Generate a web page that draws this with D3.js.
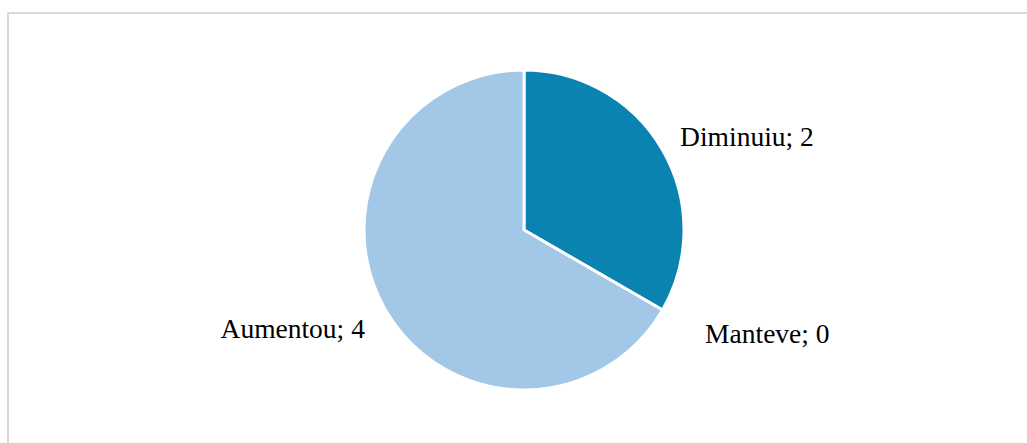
<!DOCTYPE html>
<html><head><meta charset="utf-8">
<script src="https://cdn.jsdelivr.net/npm/d3@7"></script>
<style>html,body{margin:0;padding:0;background:#fff;}</style>
</head><body>
<svg id="chart" width="1027" height="443"></svg>
<script>
const categories = ["Diminuiu", "Manteve", "Aumentou"];
const values = [2, 0, 4];
const colors = ["#0a83b0", "#0a83b0", "#a3c7e6"];

const svg = d3.select("#chart");
const W = 1027, H = 443;
svg.append("rect").attr("x", 8).attr("y", 13).attr("width", W + 10).attr("height", H + 10)
  .attr("fill", "#fff").attr("stroke", "#d9d9d9").attr("stroke-width", 2);

const cx = 524, cy = 230, r = 160;
const data = categories.map((c, i) => ({ cat: c, value: values[i], color: colors[i] }));
const pie = d3.pie().value(d => d.value).sort(null);
const arcs = pie(data);
const arc = d3.arc().innerRadius(0).outerRadius(r);
const g = svg.append("g").attr("transform", `translate(${cx},${cy})`);
g.selectAll("path").data(arcs.filter(a => a.data.value > 0)).join("path")
  .attr("d", arc).attr("fill", d => d.data.color)
  .attr("stroke", "#fff").attr("stroke-width", 3).attr("stroke-linejoin", "miter");

const labelR = r * 1.17;
const extra = { "Manteve": [19, 10], "Diminuiu": [-6, 0], "Aumentou": [3, 5] };
g.selectAll("text").data(arcs).join("text")
  .each(function(d) {
    const a = (d.startAngle + d.endAngle) / 2;
    const x = Math.sin(a) * labelR + extra[d.data.cat][0];
    const y = -Math.cos(a) * labelR + extra[d.data.cat][1];
    d3.select(this).attr("x", x).attr("y", y)
      .attr("text-anchor", Math.sin(a) >= 0 ? "start" : "end");
  })
  .attr("dominant-baseline", "central")
  .attr("font-family", "'Liberation Serif', serif")
  .attr("font-size", 27.5)
  .attr("fill", "#000")
  .text(d => `${d.data.cat}; ${d.data.value}`);
</script>
</body></html>
